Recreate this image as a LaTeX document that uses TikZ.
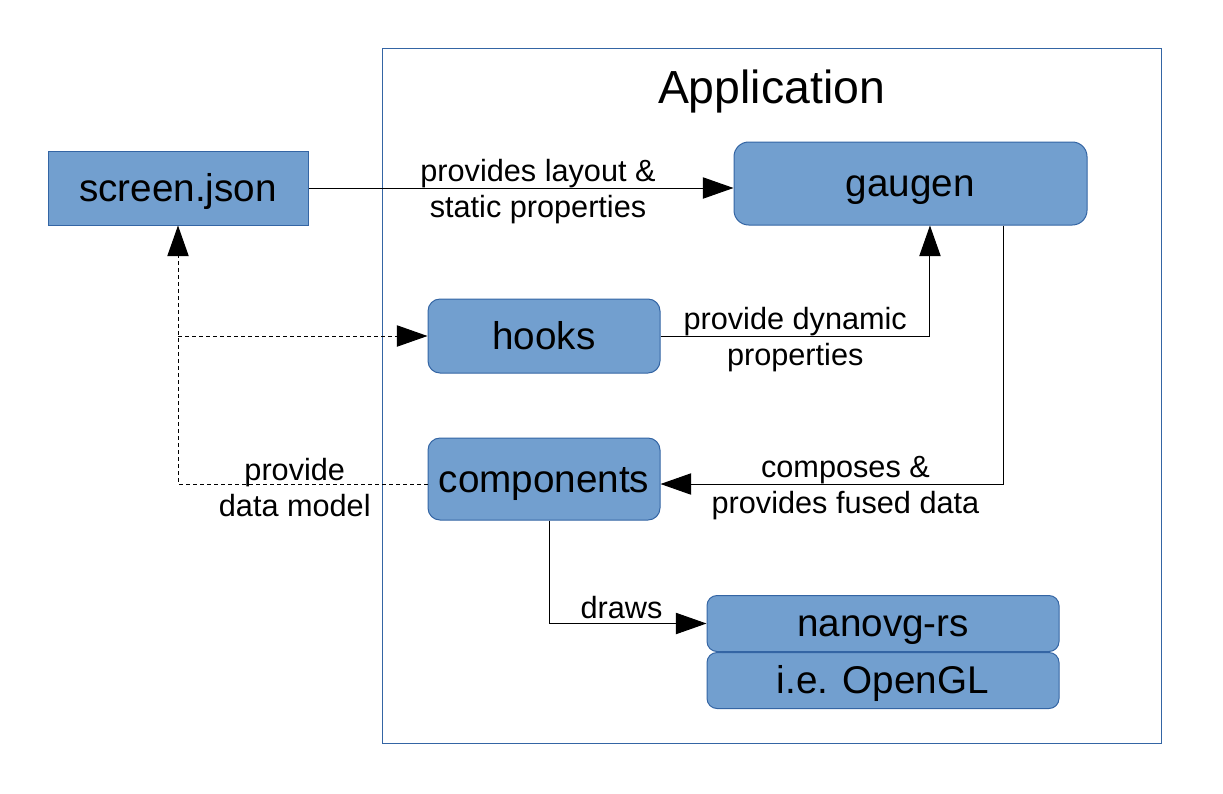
\documentclass[tikz,border=0pt]{standalone}
\usepackage{fontspec}
\setmainfont{Liberation Sans}
\usetikzlibrary{arrows.meta, positioning}
\definecolor{boxblue}{HTML}{729FCF}
\definecolor{edgeblue}{HTML}{3465A4}
\tikzset{
  block/.style={rectangle, draw=edgeblue, fill=boxblue, align=center,
                inner sep=0pt, line width=0.75pt, text height=26.2pt, text depth=6.15pt,
                font=\fontsize{29}{34}\selectfont},
  rblock/.style={block, rounded corners=9pt},
  arrow/.style={-{Triangle[length=23pt, width=16pt]}, line width=0.75pt, color=black},
  dasharrow/.style={arrow, dash pattern=on 3pt off 2.25pt},
  label/.style={font=\fontsize{23}{27}\selectfont, align=center, inner sep=0pt},
}

\begin{document}
\begin{tikzpicture}[x=0.75pt, y=-0.75pt]
  \useasboundingbox (0,0) rectangle (1223,793);
  % application frame
  \node[draw=edgeblue, line width=0.75pt, inner sep=0pt,
        minimum width=584.25pt, minimum height=521.25pt] (app) at (771.5,395.5) {};
  \node[font=\fontsize{34.8}{40}\selectfont, inner sep=0pt, text height=31.5pt, text depth=7.4pt] (title) at (771.5,87) {Application};
  % boxes
  \node[block, minimum width=195pt, minimum height=55.5pt] (screen) at (178,188) {screen.json};
  \node[rblock, rounded corners=11pt, minimum width=264.75pt, minimum height=62.25pt] (gaugen) at (910.5,183.5) {gaugen};
  \node[rblock, minimum width=174pt, minimum height=55.5pt] (hooks) at (544,336) {hooks};
  \node[rblock, minimum width=174pt, minimum height=61.5pt] (comp) at (544,479) {components};
  \node[rblock, rounded corners=7.5pt, minimum width=264pt, minimum height=42pt] (nanovg) at (883,623.5) {nanovg-rs};
  \node[rblock, rounded corners=7.5pt, minimum width=264pt, minimum height=42pt, below=0pt of nanovg] (opengl) {i.e. OpenGL};
  % connectors
  \draw[arrow] (screen.east) -- node[label, pos=0.54, yshift=-3pt] {provides layout \&\\static properties} (screen.east -| gaugen.west);
  \draw[arrow] (hooks.east) -| node[label, pos=0.25, yshift=-3pt] {provide dynamic\\properties} ([xshift=14.6pt]gaugen.south);
  \draw[arrow] ([xshift=69.4pt]gaugen.south) |- node[label, pos=0.73, yshift=-3pt] {composes \&\\provides fused data} ([yshift=-3.75pt]comp.east);
  \draw[arrow] ([xshift=3.75pt]comp.south) |- node[label, pos=0.73, anchor=south, yshift=3pt] {draws} (nanovg.west);
  \draw[dasharrow] ([yshift=-3.75pt]comp.west) -| node[label, pos=0.266, yshift=-3pt] {provide\\data model} (screen.south);
  \draw[dasharrow] (screen.south |- hooks.west) -- (hooks.west);
\end{tikzpicture}
\end{document}
